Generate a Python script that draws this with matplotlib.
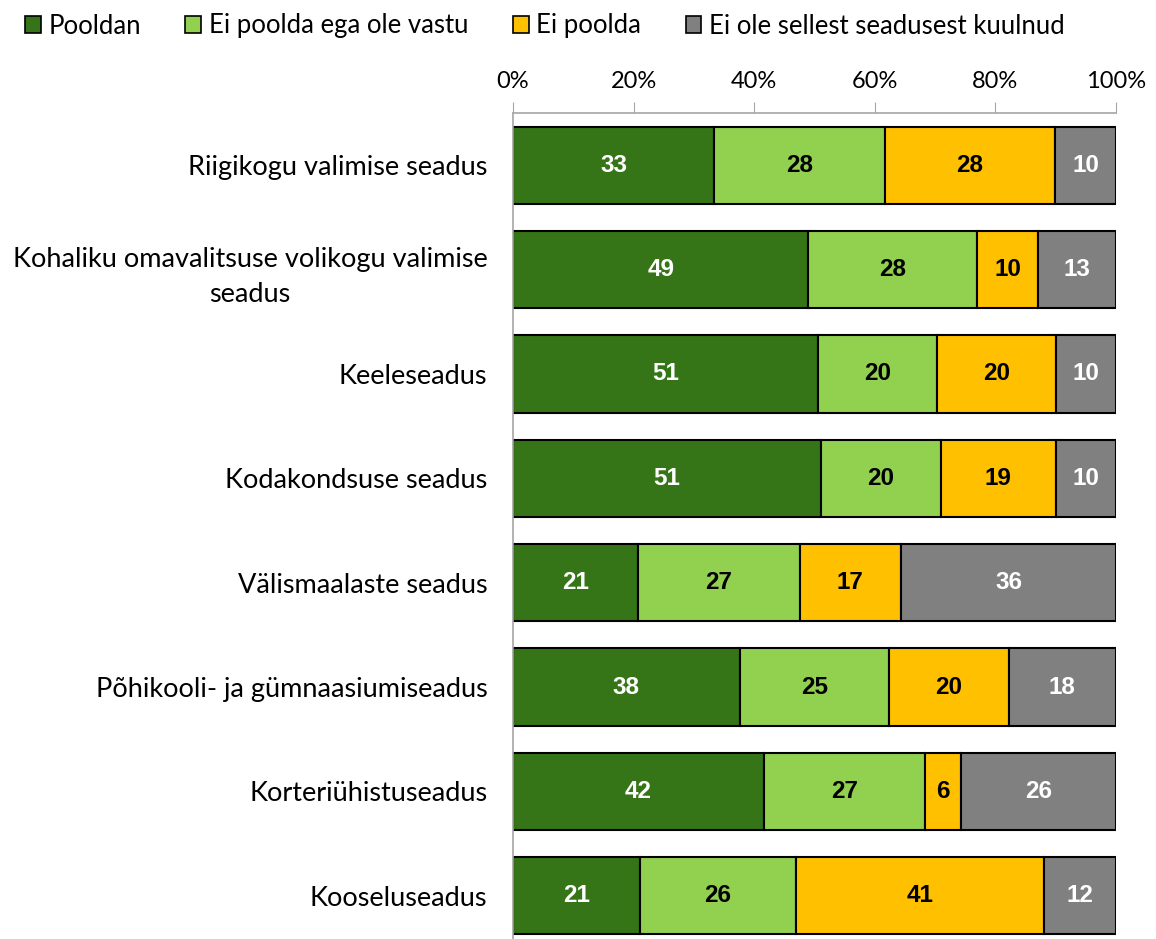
import numpy as np
import matplotlib
matplotlib.use("Agg")
import matplotlib.pyplot as plt
from matplotlib.patches import Patch

categories = [
    "Riigikogu valimise seadus",
    "Kohaliku omavalitsuse volikogu valimise\nseadus",
    "Keeleseadus",
    "Kodakondsuse seadus",
    "Välismaalaste seadus",
    "Põhikooli- ja gümnaasiumiseadus",
    "Korteriühistuseadus",
    "Kooseluseadus",
]
series = ["Pooldan", "Ei poolda ega ole vastu", "Ei poolda", "Ei ole sellest seadusest kuulnud"]
pooldan = [33, 49, 51, 51, 21, 38, 42, 21]
neutraalne = [28, 28, 20, 20, 27, 25, 27, 26]
ei_poolda = [28, 10, 20, 19, 17, 20, 6, 41]
ei_kuulnud = [10, 13, 10, 10, 36, 18, 26, 12]

colors = ["#367517", "#92D050", "#FFC000", "#808080"]
text_colors = ["white", "black", "black", "white"]

plt.rcParams["font.family"] = ["Lato", "DejaVu Sans"]

values = np.array([pooldan, neutraalne, ei_poolda, ei_kuulnud], dtype=float)
shares = values / values.sum(axis=0) * 100  # 100% stacked

fig = plt.figure(figsize=(11.56, 9.39), dpi=100)
ax = fig.add_axes([0.4438, -0.0096, 0.5216, 0.8893])

y = np.arange(len(categories))
left = np.zeros(len(categories))
for i, name in enumerate(series):
    bars = ax.barh(y, shares[i], left=left, height=0.74, color=colors[i],
                   edgecolor="black", linewidth=1.5, label=name)
    ax.bar_label(bars, labels=[f"{v:.0f}" for v in values[i]], label_type="center",
                 color=text_colors[i], fontsize=17.5, fontweight="bold",
                 family=["Liberation Sans", "DejaVu Sans"])
    left += shares[i]

ax.set_xlim(0, 100)
ax.set_ylim(len(categories) - 0.5, -0.5)
ax.xaxis.tick_top()
ax.set_xticks(np.arange(0, 101, 20))
ax.set_xticklabels([f"{t}%" for t in range(0, 101, 20)])
ax.tick_params(axis="x", direction="out", length=8, color="#A6A6A6", labelsize=17, pad=7)
ax.set_yticks(y)
ax.set_yticklabels(categories, fontsize=19.5, multialignment="center", linespacing=1.5)
ax.tick_params(axis="y", length=0, pad=18.5)

for side in ["bottom", "right"]:
    ax.spines[side].set_visible(False)
for side in ["top", "left"]:
    ax.spines[side].set_color("#A6A6A6")
    ax.spines[side].set_linewidth(1.2)

handles = [Patch(facecolor=c, edgecolor="black", linewidth=1.2) for c in colors]
fig.legend(handles, series, loc="center left", bbox_to_anchor=(25 / 1156, 1 - 26 / 939), ncol=4,
           frameon=False, fontsize=18.5, handlelength=0.62, handleheight=0.62,
           handletextpad=0.3, columnspacing=1.72, borderpad=0, borderaxespad=0)

fig.savefig("out.png", dpi=100)
